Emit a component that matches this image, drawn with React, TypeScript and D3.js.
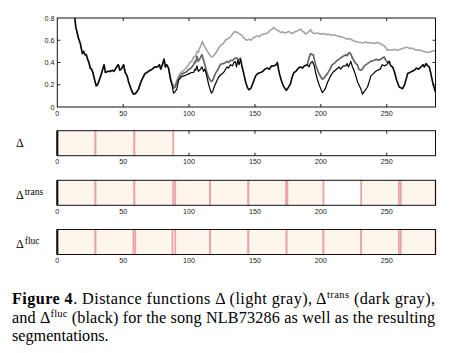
import * as React from "react";
import * as d3 from "d3";

type Pt = [number, number];

const xTicks = [0, 50, 100, 150, 200, 250];
const yTicks = [0, 0.2, 0.4, 0.6, 0.8];

// black curve (Δ^fluc)
const flucPts: Pt[] = [
  [13, 0.85], [14, 0.72], [15, 0.67], [16, 0.62], [17.5, 0.57], [19, 0.48], [20, 0.5], [21, 0.47],
  [22, 0.47], [23, 0.43], [24, 0.4], [25, 0.35], [26, 0.34], [27, 0.31], [28, 0.26], [29.5, 0.19],
  [30.5, 0.2], [31.5, 0.23], [33, 0.28], [34.5, 0.34], [35.5, 0.38], [36.5, 0.31], [38, 0.32], [40, 0.32],
  [42, 0.33], [43, 0.32], [45, 0.36], [46.3, 0.38], [47.5, 0.33], [49, 0.35], [50.3, 0.38], [51.5, 0.31],
  [53, 0.28], [54, 0.23], [56, 0.16], [57.5, 0.12], [58.5, 0.115], [60, 0.13], [61.6, 0.16], [63, 0.21],
  [64, 0.24], [66.5, 0.3], [68, 0.31], [70.4, 0.33], [72, 0.34], [74, 0.36], [76, 0.36], [77.5, 0.38],
  [78.5, 0.34], [80, 0.39], [81, 0.43], [82, 0.36], [83, 0.38], [84.4, 0.35], [86, 0.24], [87, 0.2],
  [88.2, 0.125], [89, 0.13], [90.7, 0.16], [92, 0.24], [94, 0.27], [96, 0.28], [98.4, 0.29], [100, 0.3],
  [102, 0.31], [103.4, 0.31], [104.5, 0.34], [105, 0.33], [106, 0.37], [107, 0.32], [108, 0.33], [109.8, 0.36],
  [111, 0.32], [112, 0.34], [113, 0.3], [114.9, 0.2], [116.9, 0.125], [118, 0.14], [119, 0.18], [120.5, 0.22],
  [122.4, 0.27], [124, 0.29], [126.2, 0.31], [128.8, 0.36], [130, 0.35], [131.3, 0.38], [133, 0.37], [134, 0.4],
  [135, 0.41], [136, 0.36], [137, 0.42], [138, 0.38], [139, 0.43], [140, 0.37], [141.5, 0.3], [143, 0.22],
  [144.5, 0.17], [145.5, 0.155], [147, 0.17], [148, 0.2], [150.5, 0.28], [152, 0.3], [154.3, 0.31], [156, 0.32],
  [157.5, 0.34], [159.4, 0.35], [161, 0.34], [162.5, 0.37], [164.5, 0.37], [166, 0.38], [167, 0.4], [168, 0.33],
  [169, 0.28], [170.5, 0.22], [172, 0.18], [173.8, 0.15], [175, 0.17], [177, 0.21], [178, 0.26], [179.5, 0.31],
  [181, 0.32], [183, 0.35], [184.6, 0.36], [186, 0.35], [187.5, 0.37], [189.7, 0.38], [191, 0.36], [192, 0.39],
  [193.5, 0.41], [195, 0.37], [196, 0.31], [197.3, 0.25], [199, 0.19], [201.1, 0.13], [202.5, 0.15], [203.6, 0.17],
  [205, 0.22], [207.5, 0.28], [209, 0.31], [211, 0.33], [213.8, 0.36], [215, 0.34], [217, 0.37], [218.9, 0.37],
  [220, 0.39], [221, 0.36], [222.7, 0.41], [224, 0.36], [224.8, 0.34], [226, 0.3], [228, 0.22], [230.3, 0.165],
  [231.6, 0.115], [233, 0.14], [235.4, 0.18], [236.5, 0.22], [238, 0.28], [240, 0.3], [241.5, 0.32], [243, 0.33],
  [245, 0.34], [246.5, 0.38], [248.1, 0.37], [250, 0.38], [251.9, 0.41], [253, 0.37], [254.5, 0.36], [256, 0.31],
  [257.5, 0.24], [259.5, 0.18], [261, 0.17], [262, 0.165], [263.5, 0.2], [265, 0.26], [265.8, 0.3], [267.5, 0.31],
  [269, 0.32], [270.9, 0.33], [272.5, 0.35], [274, 0.34], [276, 0.36], [277.5, 0.38], [278.5, 0.36], [279.8, 0.39],
  [281, 0.37], [282.3, 0.36], [283.5, 0.3], [284.8, 0.225], [286, 0.17], [287.4, 0.12],
];

// dark gray curve (Δ^trans) where it leaves the black one
const transMidA: Pt[] = [
  [86, 0.25], [87, 0.21], [88.2, 0.17], [89.5, 0.18], [91, 0.23], [93.3, 0.28], [95, 0.3], [97, 0.31],
  [98.4, 0.32], [100, 0.34], [101.5, 0.35], [103.4, 0.38], [104.5, 0.41], [105, 0.4], [106, 0.456], [107, 0.41],
  [108, 0.43], [109.8, 0.47], [111, 0.42], [112, 0.38], [113, 0.33], [114.9, 0.26], [116.9, 0.23], [118, 0.24],
  [119.9, 0.3], [121.5, 0.33], [123.7, 0.38], [125, 0.39], [126.5, 0.39], [128.8, 0.41], [130, 0.4], [131.5, 0.42],
  [133, 0.42], [134, 0.43], [135, 0.44], [136.4, 0.44], [137, 0.42], [138, 0.43], [139, 0.44], [140, 0.38],
  [141.5, 0.3],
];
const transMidB: Pt[] = [
  [191, 0.44], [192.2, 0.48], [193.5, 0.47], [194.3, 0.47], [195, 0.43], [196, 0.38], [197.5, 0.33], [199, 0.29],
  [201.1, 0.25], [202.5, 0.26], [203.6, 0.28], [205, 0.3], [207, 0.34], [208.6, 0.38], [210, 0.39], [212.5, 0.42],
  [214, 0.43], [216, 0.45], [217.6, 0.46], [219, 0.47], [220, 0.46], [221.4, 0.49], [222.6, 0.48], [224, 0.44],
  [225, 0.42], [226.5, 0.39], [227.8, 0.38], [228.8, 0.34], [230.3, 0.33], [231.5, 0.34], [233, 0.37], [235.4, 0.39],
  [237.9, 0.41], [240.5, 0.42], [242, 0.43], [243.5, 0.42], [245.6, 0.43], [246.8, 0.44], [248.1, 0.45], [249.3, 0.42],
  [250.6, 0.4],
];

// light gray curve (Δ) after it leaves the others
const deltaTail: Pt[] = [
  [86, 0.26], [87, 0.22], [88.2, 0.19], [89.5, 0.2], [91, 0.25], [93, 0.3], [95, 0.32], [97, 0.34],
  [99, 0.37], [100.5, 0.4], [102, 0.41], [103.5, 0.45], [105, 0.46], [106, 0.5], [107, 0.49], [108, 0.53],
  [109, 0.55], [110, 0.59], [111, 0.56], [112.5, 0.53], [114, 0.5], [115.5, 0.47], [117, 0.45], [118.5, 0.46],
  [120, 0.48], [121.5, 0.51], [123, 0.54], [124.5, 0.56], [126, 0.57], [127.5, 0.6], [129, 0.61], [130.5, 0.62],
  [132, 0.64], [133.9, 0.67], [135, 0.68], [136.5, 0.67], [138, 0.66], [139.5, 0.65], [141, 0.63], [142.5, 0.61],
  [144, 0.6], [145.5, 0.61], [147, 0.6], [148.5, 0.62], [150, 0.63], [151.7, 0.64], [153, 0.63], [155, 0.65],
  [156.8, 0.655], [158.5, 0.66], [160, 0.67], [161.5, 0.69], [163, 0.7], [164.3, 0.715], [165.5, 0.7], [167, 0.69],
  [168.5, 0.68], [169.4, 0.67], [171, 0.675], [172.5, 0.665], [174, 0.67], [175.5, 0.68], [177, 0.67], [178.5, 0.66],
  [180, 0.675], [181.5, 0.68], [183, 0.69], [184.6, 0.7], [186, 0.68], [187.5, 0.67], [188.4, 0.655], [189.5, 0.665],
  [191, 0.68], [192.2, 0.695], [193.5, 0.67], [195, 0.66], [197, 0.665], [199.8, 0.655], [202, 0.66], [204, 0.65],
  [206, 0.655], [208, 0.645], [210, 0.65], [212, 0.64], [214, 0.635], [216, 0.63], [218, 0.62], [220.2, 0.61],
  [222, 0.615], [224, 0.6], [226, 0.59], [228, 0.585], [230.3, 0.58], [232, 0.575], [234, 0.585], [236, 0.575],
  [238, 0.58], [240, 0.57], [243, 0.58], [245, 0.57], [246.5, 0.56], [248, 0.55], [249.5, 0.53], [250.6, 0.51],
  [252, 0.515], [254, 0.51], [256, 0.52], [258, 0.51], [260.7, 0.52], [262, 0.525], [264, 0.535], [265.8, 0.536],
  [267.5, 0.525], [269, 0.53], [270.9, 0.52], [272.5, 0.51], [274, 0.515], [276, 0.507], [278, 0.5], [280, 0.495],
  [281, 0.49], [282.5, 0.495], [284, 0.5], [286, 0.507], [287.4, 0.5],
];

// the three curves coincide before frame 86; trans follows fluc between its own stretches
const transPts: Pt[] = [
  ...flucPts.filter((p) => p[0] < 86),
  ...transMidA,
  ...flucPts.filter((p) => p[0] >= 143 && p[0] < 191),
  ...transMidB,
  ...flucPts.filter((p) => p[0] > 251),
];
const deltaPts: Pt[] = [...flucPts.filter((p) => p[0] < 86), ...deltaTail];

// segmentations (start, end in frames)
const deltaSegs: Pt[] = [[0, 29], [29, 58.5], [58.5, 88]];
const transSegs: Pt[] = [
  [0, 29], [29, 58.5], [58.5, 88], [89.5, 116], [116, 145], [145, 173.6], [174.6, 202], [230.6, 259.2], [260.6, 287],
];
const flucSegs: Pt[] = [
  [0, 29], [29, 57.8], [59.2, 87.4], [89.5, 116], [116, 145], [145, 174], [174, 202], [202, 230.6], [230.6, 259.2], [260.6, 287],
];

const W = 451;
const H = 353;
const x = d3.scaleLinear().domain([0, 287]).range([57.3, 435.5]);
const y = d3.scaleLinear().domain([0, 0.8]).range([107, 18]);
const line = d3.line<Pt>().x((d) => x(d[0])).y((d) => y(d[1]));

const tickFont = "Liberation Sans, Arial, sans-serif";
const serif = "Liberation Serif, Times New Roman, serif";
const stripH = 25;

const Strip: React.FC<{ top: number; segs: Pt[]; sup: string }> = ({ top, segs, sup }) => {
  const x0 = x(0);
  const x1 = x(287);
  return (
    <g>
      {xTicks.slice(1).map((t) => (
        <g key={t}>
          <line x1={x(t)} x2={x(t)} y1={top} y2={top + 3} stroke="#222" />
          <line x1={x(t)} x2={x(t)} y1={top + stripH} y2={top + stripH - 3} stroke="#222" />
        </g>
      ))}
      {segs.map(([a, b], i) => (
        <g key={i}>
          <rect x={x(a)} y={top} width={x(b) - x(a)} height={stripH} fill="#fef6ec" />
          <line x1={x(a)} x2={x(a)} y1={top} y2={top + stripH} stroke="#eba2a2" strokeWidth={1.8} />
          <line x1={x(b)} x2={x(b)} y1={top} y2={top + stripH} stroke="#eba2a2" strokeWidth={1.8} />
        </g>
      ))}
      <rect x={x0} y={top} width={x1 - x0} height={stripH} fill="none" stroke="#111" strokeWidth={1} />
      <line x1={x0} x2={x0} y1={top} y2={top + stripH} stroke="#111" strokeWidth={2} />
      {xTicks.map((t) => (
        <text key={t} x={x(t)} y={top + stripH + 8.5} fontSize={7.2} fontFamily={tickFont} textAnchor="middle" fill="#222">
          {t}
        </text>
      ))}
      <text x={16} y={top + stripH / 2 + (sup ? 6 : 4)} fontFamily={serif} fontSize={12}>
        Δ
        {sup && (
          <tspan dy={-4} fontSize={9.5} dx={1}>
            {sup}
          </tspan>
        )}
      </text>
    </g>
  );
};

export default function App() {
  const left = x(0);
  const right = x(287);
  return (
    <svg width={W} height={H} style={{ position: "absolute", left: 0, top: 0, background: "#fff" }}>
      <defs>
        <clipPath id="plot">
          <rect x={left} y={y(0.8)} width={right - left} height={y(0) - y(0.8)} />
        </clipPath>
      </defs>
      {/* ticks */}
      {xTicks.slice(1).map((t) => (
        <g key={t}>
          <line x1={x(t)} x2={x(t)} y1={y(0)} y2={y(0) - 3} stroke="#222" />
          <line x1={x(t)} x2={x(t)} y1={y(0.8)} y2={y(0.8) + 3} stroke="#222" />
        </g>
      ))}
      {yTicks.slice(1, 4).map((t) => (
        <g key={t}>
          <line x1={left} x2={left + 3} y1={y(t)} y2={y(t)} stroke="#222" />
          <line x1={right} x2={right - 3} y1={y(t)} y2={y(t)} stroke="#222" />
        </g>
      ))}
      <g clipPath="url(#plot)" fill="none" strokeLinejoin="round">
        <path d={line(deltaPts) || ""} stroke="#a4a4a4" strokeWidth={1.6} />
        <path d={line(transPts) || ""} stroke="#666" strokeWidth={1.7} />
        <path d={line(flucPts) || ""} stroke="#000" strokeWidth={1.2} />
      </g>
      <rect x={left} y={y(0.8)} width={right - left} height={y(0) - y(0.8)} fill="none" stroke="#111" />
      {xTicks.map((t) => (
        <text key={t} x={x(t)} y={115.5} fontSize={7.2} fontFamily={tickFont} textAnchor="middle" fill="#222">
          {t}
        </text>
      ))}
      {yTicks.map((t) => (
        <text key={t} x={54.5} y={y(t) + 2.6} fontSize={7.2} fontFamily={tickFont} textAnchor="end" fill="#222">
          {t === 0 ? "0" : t.toFixed(1)}
        </text>
      ))}

      <Strip top={130.7} segs={deltaSegs} sup="" />
      <Strip top={180.3} segs={transSegs} sup="trans" />
      <Strip top={229.5} segs={flucSegs} sup="fluc" />

      <g fontFamily={serif} fontSize={16.2} fill="#000">
        <text x={12} y={304} textLength={423} lengthAdjust="spacing">
          <tspan fontWeight="bold">Figure 4</tspan>. Distance functions Δ (light gray), Δ
          <tspan fontSize={10.5} dy={-6}>trans</tspan>
          <tspan dy={6}> (dark gray),</tspan>
        </text>
        <text x={12} y={323} textLength={423} lengthAdjust="spacing">
          and Δ<tspan fontSize={10.5} dy={-6}>fluc</tspan>
          <tspan dy={6}> (black) for the song NLB73286 as well as the resulting</tspan>
        </text>
        <text x={12} y={341}>segmentations.</text>
      </g>
    </svg>
  );
}
